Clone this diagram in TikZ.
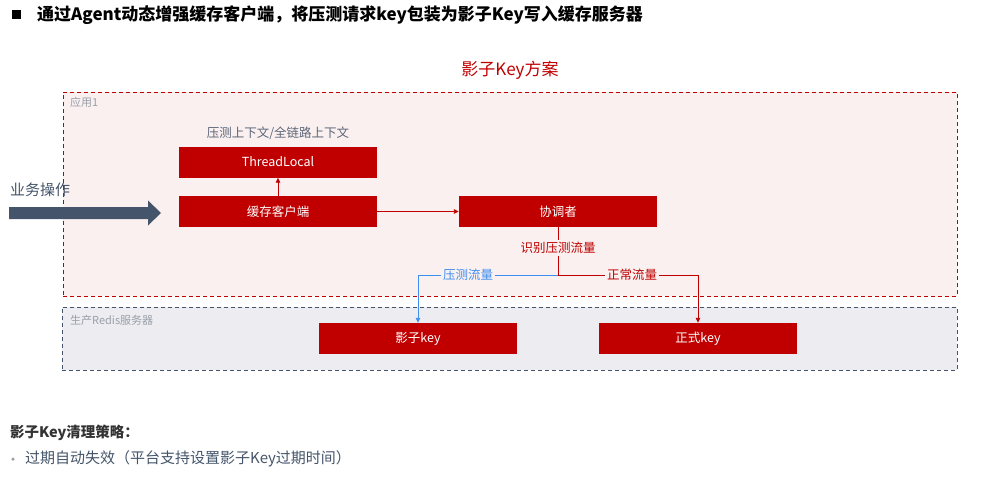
\documentclass[tikz,border=0pt]{standalone}
\usepackage{fontspec}
\setmainfont{Noto Sans CJK SC}
\usetikzlibrary{arrows.meta}
\definecolor{cred}{HTML}{C00000}
\definecolor{pinkbg}{HTML}{FBF0F0}
\definecolor{redisbg}{HTML}{ECECF1}
\definecolor{slate}{HTML}{44546A}
\definecolor{graytxt}{HTML}{9A9FA8}
\definecolor{ctxgray}{HTML}{5C6678}
\definecolor{cblue}{HTML}{3D8EF0}
\begin{document}
\begin{tikzpicture}[x=1pt,y=-1pt,
  redbox/.style={fill=cred, minimum width=198pt, minimum height=31pt, text=white, inner sep=0pt, font=\fontsize{12.5}{14}\selectfont},
  container/.style={dashed, dash pattern=on 4pt off 3pt, line width=0.9pt, anchor=north west, inner sep=0pt},
  smalllabel/.style={anchor=west, text=graytxt, inner sep=0pt, font=\fontsize{11}{13}\selectfont},
  conn/.style={line width=0.9pt, -{Triangle[length=5pt,width=4.5pt]}},
  edgelabel/.style={fill=pinkbg, inner sep=2pt, font=\fontsize{12.5}{14}\selectfont}
]
\useasboundingbox (0,0) rectangle (993,487);

% title
\node[fill=black, minimum size=9pt, inner sep=0pt] (sq) at (16,15) {};
\node[anchor=west, inner sep=0pt, font=\bfseries\fontsize{17}{19}\selectfont] (title) at (37,15) {通过Agent动态增强缓存客户端，将压测请求key包装为影子Key写入缓存服务器};

\node[text=cred, font=\fontsize{17}{19}\selectfont, inner sep=0pt] (plan) at (510,70) {影子Key方案};

% containers
\node[container, draw=cred, fill=pinkbg, minimum width=894pt, minimum height=204pt] (app) at (63,92) {};
\node[smalllabel] (applbl) at (70,102) {应用1};
\node[container, draw=slate, fill=redisbg, minimum width=895pt, minimum height=63pt] (redis) at (62,307) {};
\node[smalllabel] (redislbl) at (70,320) {生产Redis服务器};

% context label
\node[text=ctxgray, font=\fontsize{12.5}{14}\selectfont, inner sep=0pt] (ctx) at (278,133) {压测上下文/全链路上下文};

% boxes
\node[redbox] (tl) at (278,162) {ThreadLocal};
\node[redbox] (client) at (278,211.5) {缓存客户端};
\node[redbox] (coord) at (558,211.5) {协调者};
\node[redbox] (shadow) at (418,338.5) {影子key};
\node[redbox] (formal) at (698,338.5) {正式key};

% business operation arrow
\node[anchor=west, text=slate, font=\fontsize{15}{17}\selectfont, inner sep=0pt] (biz) at (10,190) {业务操作};
\fill[slate] (9,207) -- (148,207) -- (148,200.5) -- (161,213) -- (148,225.5) -- (148,219) -- (9,219) -- cycle;

% connectors
\draw[conn, cred] (client) -- (tl);
\draw[conn, cred] (client) -- (coord);

\coordinate (j) at (558,275);
\draw[line width=0.9pt, cred] (coord) -- (j);
\node[edgelabel, text=cred] (ident) at (558,248) {识别压测流量};
\draw[conn, cblue] (j) -| (shadow);
\draw[conn, cred] (j) -| (formal);
\node[edgelabel, text=cblue] (stress) at (468,275) {压测流量};
\node[edgelabel, text=cred] (normal) at (632,275) {正常流量};

% bottom notes
\node[anchor=west, inner sep=0pt, text=black!80, font=\bfseries\fontsize{14.5}{16}\selectfont] (policy) at (10,433) {影子Key清理策略：};
\node[circle, fill=graytxt, minimum size=3.5pt, inner sep=0pt] (bullet) at (13,459) {};
\node[anchor=west, inner sep=0pt, text=slate, font=\fontsize{15}{17}\selectfont] (item) at (25,459) {过期自动失效（平台支持设置影子Key过期时间）};
\end{tikzpicture}
\end{document}
